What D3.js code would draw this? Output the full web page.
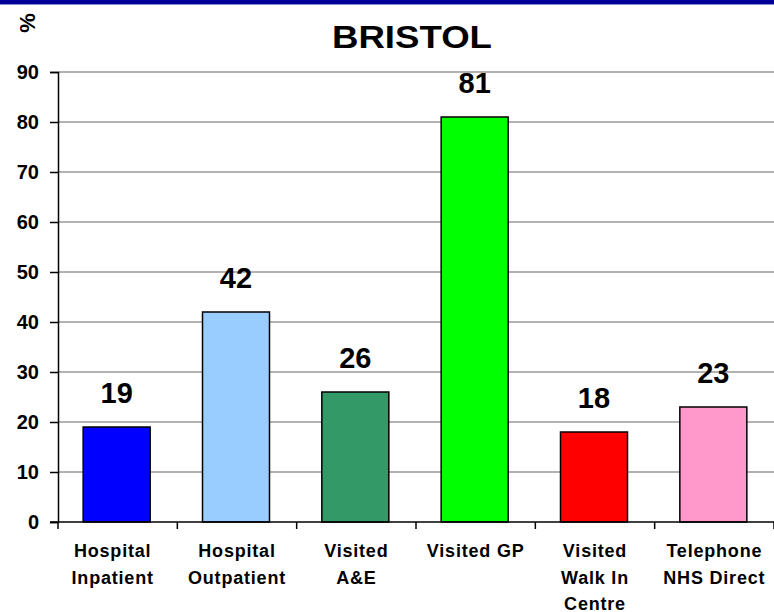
<!DOCTYPE html>
<html><head><meta charset="utf-8">
<script src="https://cdn.jsdelivr.net/npm/d3@7"></script>
<style>body{margin:0;background:#fff}svg{display:block}text{font-family:"Liberation Sans",Arial,sans-serif;font-weight:bold;fill:#000}</style>
</head><body><svg id="c" width="774" height="612"></svg>
<script>
const categories = [["Hospital","Inpatient"],["Hospital","Outpatient"],["Visited","A&E"],["Visited GP"],["Visited","Walk In","Centre"],["Telephone","NHS Direct"]];
const values = [19, 42, 26, 81, 18, 23];
const colors = ["#0000FF","#99CCFF","#339966","#00FF00","#FF0000","#FF99CC"];
const yTicks = [0,10,20,30,40,50,60,70,80,90];
const title = "BRISTOL";
const yLabel = "%";

const svg = d3.select("#c");
const mLeft = 58, mRight = 774, mTop = 72, mBottom = 522;
const x = d3.scaleBand().domain(d3.range(values.length)).range([mLeft, mRight]).padding(0);
const y = d3.scaleLinear().domain([0, 90]).range([mBottom, mTop]);

svg.append("rect").attr("x",0).attr("y",0).attr("width",774).attr("height",4).attr("fill","#000099");
svg.append("rect").attr("x",0).attr("y",4).attr("width",774).attr("height",1).attr("fill","#8888cc");

svg.append("text").attr("x",412).attr("y",48).attr("text-anchor","middle")
  .attr("font-size",31.5).attr("textLength",160).attr("lengthAdjust","spacingAndGlyphs").text(title);
svg.append("text").attr("transform","translate(35,23) rotate(-90)").attr("text-anchor","middle")
  .attr("font-size",22).text(yLabel);

// gridlines
svg.append("g").selectAll("line").data(yTicks.filter(d=>d>0)).join("line")
  .attr("x1",mLeft).attr("x2",mRight).attr("y1",d=>y(d)).attr("y2",d=>y(d))
  .attr("stroke","#999").attr("stroke-width",1.5);

// y axis
const ya = svg.append("g").attr("transform",`translate(${mLeft},0)`)
  .call(d3.axisLeft(y).tickValues(yTicks).tickSize(8).tickPadding(11));
ya.select(".domain").attr("stroke","#000").attr("stroke-width",1.5);
ya.selectAll(".tick line").attr("stroke","#000").attr("stroke-width",1.5);
ya.selectAll(".tick text").attr("font-size",20).attr("font-family","Liberation Sans, Arial, sans-serif").attr("font-weight","bold").attr("fill","#000");

// bars
const bw = 67;
svg.append("g").selectAll("rect").data(values).join("rect")
  .attr("x",(d,i)=>x(i)+x.bandwidth()/2-bw/2-1).attr("width",bw)
  .attr("y",d=>y(d)).attr("height",d=>y(0)-y(d))
  .attr("fill",(d,i)=>colors[i]).attr("stroke","#000").attr("stroke-width",1.5);

// x axis
const xa = svg.append("g").attr("transform",`translate(0,${mBottom})`);
xa.append("line").attr("x1",mLeft-8).attr("x2",mRight).attr("y1",0).attr("y2",0).attr("stroke","#000").attr("stroke-width",1.5);
xa.selectAll("line.t").data(d3.range(values.length+1)).join("line").attr("class","t")
  .attr("x1",i=>mLeft+i*x.step()).attr("x2",i=>mLeft+i*x.step()).attr("y1",0).attr("y2",7)
  .attr("stroke","#000").attr("stroke-width",1.5);

// value labels
svg.append("g").selectAll("text").data(values).join("text")
  .attr("x",(d,i)=>x(i)+x.bandwidth()/2-1).attr("y",d=>y(d)-24)
  .attr("text-anchor","middle").attr("font-size",29).text(d=>d);

// category labels
const cl = svg.append("g").selectAll("text").data(categories).join("text")
  .attr("x",(d,i)=>x(i)+x.bandwidth()/2 + (i===0?-5:0)).attr("y",557)
  .attr("text-anchor","middle").attr("font-size",18).attr("letter-spacing",0.8);
cl.selectAll("tspan").data(d=>d).join("tspan")
  .attr("x",function(){return d3.select(this.parentNode).attr("x");})
  .attr("dy",(d,j)=>j===0?0:26.5).text(d=>d);
</script></body></html>
